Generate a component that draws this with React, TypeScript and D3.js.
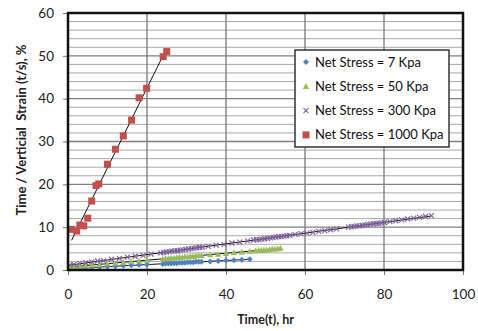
import * as d3 from "d3";
import React, { useRef, useEffect } from "react";

// series values
const x7 = [0.5, 1.5, 3, 4.5, 6, 8, 10, 12, 14, 16, 18, 20, 24, 24.7, 25.4, 26.1, 26.8, 27.5, 28.2, 28.9, 29.6, 30.3, 31, 31.7, 32.4, 33.1, 33.8, 36, 38, 40, 42, 44, 46];
const y7 = [0.3, 0.4, 0.4, 0.5, 0.6, 0.7, 0.8, 0.9, 1.0, 1.1, 1.2, 1.3, 1.4, 1.5, 1.5, 1.5, 1.6, 1.6, 1.7, 1.7, 1.7, 1.8, 1.8, 1.8, 1.9, 1.9, 1.9, 2.0, 2.1, 2.2, 2.3, 2.4, 2.5];

const x50 = [0.5, 1.5, 3, 4.5, 6, 8, 10, 12, 14, 16, 18, 20, 24, 24.7, 25.4, 26.1, 26.8, 27.5, 28.2, 28.9, 29.6, 30.3, 31, 31.7, 32.4, 33.1, 33.8, 36, 38, 40, 42, 44, 46, 47.5, 48.2, 48.9, 49.6, 50.3, 51, 51.7, 52.4, 53.1, 53.8];
const y50 = [0.7, 0.8, 0.9, 1.0, 1.2, 1.3, 1.5, 1.6, 1.8, 2.0, 2.1, 2.3, 2.6, 2.7, 2.7, 2.8, 2.8, 2.9, 3.0, 3.0, 3.1, 3.1, 3.2, 3.2, 3.3, 3.4, 3.4, 3.6, 3.7, 3.9, 4.1, 4.2, 4.4, 4.5, 4.6, 4.6, 4.7, 4.7, 4.8, 4.9, 4.9, 5.0, 5.1];

const x300 = [0.5, 1.5, 3, 4.5, 6, 7.5, 9, 11, 13, 15, 17, 19, 21, 23.5, 24.2, 24.9, 25.6, 26.3, 27, 27.7, 28.4, 29.1, 29.8, 30.5, 31.2, 31.9, 32.6, 33.3, 34, 35.5, 37.5, 39.5, 41.5, 43.5, 45.5, 47, 47.7, 48.4, 49.1, 49.8, 50.5, 51.2, 51.9, 52.6, 53.3, 54, 54.7, 55.4, 56.1, 57.5, 59, 60.5, 62, 63.5, 65, 66.5, 68, 71, 71.7, 72.4, 73.1, 73.8, 74.5, 75.2, 75.9, 76.6, 77.3, 78, 78.7, 79.4, 80.1, 81.5, 83, 84.5, 86, 87.5, 89, 90.5, 92];
const y300 = [1.2, 1.3, 1.5, 1.7, 1.9, 2.1, 2.2, 2.5, 2.7, 3.0, 3.2, 3.4, 3.7, 4.0, 4.1, 4.2, 4.3, 4.4, 4.5, 4.5, 4.6, 4.7, 4.8, 4.9, 5.0, 5.1, 5.2, 5.3, 5.3, 5.5, 5.8, 6.0, 6.3, 6.5, 6.8, 7.0, 7.1, 7.1, 7.2, 7.3, 7.4, 7.5, 7.6, 7.7, 7.8, 7.8, 7.9, 8.0, 8.1, 8.3, 8.5, 8.6, 8.8, 9.0, 9.2, 9.4, 9.6, 10.0, 10.1, 10.2, 10.3, 10.3, 10.4, 10.5, 10.6, 10.7, 10.8, 10.9, 10.9, 11.0, 11.1, 11.3, 11.5, 11.7, 11.9, 12.1, 12.3, 12.5, 12.7];

const x1000 = [0.9, 2.2, 3, 4, 5, 6, 7.1, 7.8, 10, 12, 14, 16.1, 18, 19.9, 24.1, 25];
const y1000 = [9.5, 9.1, 10.5, 10.3, 12.1, 16.1, 19.7, 20.1, 24.7, 28.2, 31.3, 35, 40.2, 42.4, 49.8, 51];

const xTicks = [0, 20, 40, 60, 80, 100];
const yTicks = [0, 10, 20, 30, 40, 50, 60];

const series = [
  { name: "Net Stress = 7 Kpa", xs: x7, ys: y7, color: "#4F81BD", shape: "diamond" },
  { name: "Net Stress = 50 Kpa", xs: x50, ys: y50, color: "#9BBB59", shape: "triangle" },
  { name: "Net Stress = 300 Kpa", xs: x300, ys: y300, color: "#8064A2", shape: "cross" },
  { name: "Net Stress = 1000 Kpa", xs: x1000, ys: y1000, color: "#C0504D", shape: "square" },
];

// least squares line
const fit = (xs: number[], ys: number[]) => {
  const mx = d3.mean(xs)!;
  const my = d3.mean(ys)!;
  let num = 0;
  let den = 0;
  xs.forEach((x, i) => {
    num += (x - mx) * (ys[i] - my);
    den += (x - mx) * (x - mx);
  });
  const b = num / den;
  return { a: my - b * mx, b };
};

const FONT = "Lato, 'Open Sans', sans-serif";

export default function App() {
  const svgRef = useRef<SVGSVGElement | null>(null);

  useEffect(() => {
    if (!svgRef.current) return;
    const root = d3.select(svgRef.current);
    root.selectAll("*").remove();

    const margin = { top: 13, right: 15, bottom: 61, left: 68 };
    const W = 478;
    const H = 331;
    const width = W - margin.left - margin.right;
    const height = H - margin.top - margin.bottom;

    const x = d3.scaleLinear().domain([0, 100]).range([0, width]);
    const y = d3.scaleLinear().domain([0, 60]).range([height, 0]);

    const g = root.append("g").attr("transform", `translate(${margin.left},${margin.top})`);

    // horizontal minor grid every 2
    g.append("g")
      .selectAll("line")
      .data(d3.range(2, 60, 2).filter((v) => v % 10 !== 0))
      .join("line")
      .attr("x1", 0)
      .attr("x2", width)
      .attr("y1", (d) => y(d))
      .attr("y2", (d) => y(d))
      .attr("stroke", "#a8a8a8")
      .attr("stroke-width", 1);

    // major grid
    g.append("g")
      .selectAll("line")
      .data(yTicks.slice(1, -1))
      .join("line")
      .attr("x1", 0)
      .attr("x2", width)
      .attr("y1", (d) => y(d))
      .attr("y2", (d) => y(d))
      .attr("stroke", "#808080")
      .attr("stroke-width", 1.4);

    g.append("g")
      .selectAll("line")
      .data(xTicks.slice(1, -1))
      .join("line")
      .attr("x1", (d) => x(d))
      .attr("x2", (d) => x(d))
      .attr("y1", 0)
      .attr("y2", height)
      .attr("stroke", "#808080")
      .attr("stroke-width", 1.4);

    // axes
    const xAxis = d3.axisBottom(x).tickValues(xTicks).tickSize(5).tickSizeOuter(0).tickPadding(14);
    const gx = g.append("g").attr("transform", `translate(0,${height})`).call(xAxis);
    gx.select(".domain").remove();
    gx.selectAll("line").attr("stroke", "#777");
    gx.selectAll("text").style("font-size", "13.5px").style("font-family", FONT).attr("fill", "#222");

    const yAxis = d3.axisLeft(y).tickValues(yTicks).tickSize(5).tickSizeOuter(0).tickPadding(9);
    const gy = g.append("g").call(yAxis);
    gy.select(".domain").remove();
    gy.selectAll("line").attr("stroke", "#777");
    gy.selectAll("text").style("font-size", "13.5px").style("font-family", FONT).attr("fill", "#222");

    // trend lines
    series.forEach((s) => {
      const { a, b } = fit(s.xs, s.ys);
      const x0 = s.shape === "square" ? d3.min(s.xs)! : 0;
      const x1 = d3.max(s.xs)!;
      g.append("line")
        .attr("x1", x(x0))
        .attr("y1", y(a + b * x0))
        .attr("x2", x(x1))
        .attr("y2", y(a + b * x1))
        .attr("stroke", "#111")
        .attr("stroke-width", 1);
    });

    const drawMarker = (sel: any, shape: string, color: string, px: number, py: number) => {
      if (shape === "square") {
        sel.append("rect").attr("x", px - 3.5).attr("y", py - 3.5).attr("width", 7).attr("height", 7).attr("fill", color);
      } else if (shape === "diamond") {
        sel.append("path")
          .attr("d", `M${px},${py - 3}L${px + 3},${py}L${px},${py + 3}L${px - 3},${py}Z`)
          .attr("fill", color);
      } else if (shape === "triangle") {
        sel.append("path")
          .attr("d", `M${px},${py - 3.2}L${px + 3.2},${py + 2.6}L${px - 3.2},${py + 2.6}Z`)
          .attr("fill", color);
      } else {
        sel.append("path")
          .attr("d", `M${px - 2.5},${py - 2.5}L${px + 2.5},${py + 2.5}M${px + 2.5},${py - 2.5}L${px - 2.5},${py + 2.5}`)
          .attr("stroke", color)
          .attr("stroke-width", 1.2)
          .attr("fill", "none");
      }
    };

    // markers
    series.forEach((s) => {
      const mg = g.append("g");
      s.xs.forEach((xv, i) => drawMarker(mg, s.shape, s.color, x(xv), y(s.ys[i])));
    });

    // plot border
    g.append("rect")
      .attr("width", width)
      .attr("height", height)
      .attr("fill", "none")
      .attr("stroke", "#111")
      .attr("stroke-width", 2.5);

    // legend
    const lg = root.append("g").attr("transform", "translate(295,50)");
    lg.append("rect")
      .attr("width", 154)
      .attr("height", 97)
      .attr("fill", "#fff")
      .attr("stroke", "#333")
      .attr("stroke-width", 1.5);
    series.forEach((s, i) => {
      const cy = 12 + i * 24.3;
      drawMarker(lg, s.shape, s.color, 11, cy);
      lg.append("text")
        .attr("x", 20)
        .attr("y", cy)
        .attr("dy", "0.35em")
        .text(s.name)
        .style("font-size", "13px")
        .style("font-family", FONT)
        .attr("fill", "#111");
    });

    // axis titles
    root.append("text")
      .attr("x", margin.left + width / 2)
      .attr("y", 324)
      .attr("text-anchor", "middle")
      .text("Time(t), hr")
      .style("font-size", "12.5px")
      .style("font-weight", "bold")
      .style("font-family", FONT)
      .attr("fill", "#222");

    root.append("text")
      .attr("transform", `translate(26,130) rotate(-90)`)
      .attr("text-anchor", "middle")
      .text("Time / Verticial  Strain (t/s), %")
      .style("font-size", "13px")
      .style("font-weight", "bold")
      .style("font-family", FONT)
      .style("white-space", "pre")
      .attr("fill", "#222");
  }, []);

  return (
    <svg
      ref={svgRef}
      width={478}
      height={331}
      style={{ position: "absolute", left: 0, top: 0, background: "#fff" }}
    ></svg>
  );
}
